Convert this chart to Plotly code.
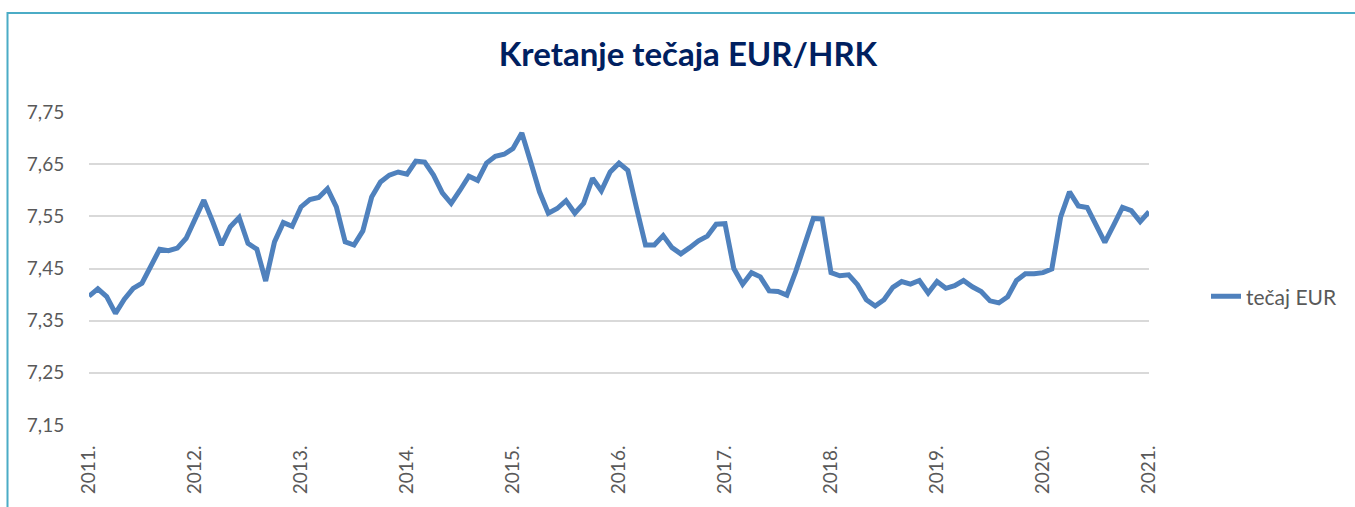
import plotly.graph_objects as go

# Monthly categories Jan 2011 .. Jan 2021
years = list(range(2011, 2022))
months = [f"{y}-{m:02d}" for y in years[:-1] for m in range(1, 13)] + ["2021-01"]

eur_hrk = [
    7.397, 7.411, 7.396, 7.364, 7.391, 7.412, 7.422, 7.454, 7.487, 7.484, 7.489, 7.508,
    7.546, 7.581, 7.540, 7.495, 7.530, 7.548, 7.498, 7.487, 7.426, 7.501, 7.538, 7.531,
    7.568, 7.582, 7.586, 7.603, 7.568, 7.501, 7.495, 7.522, 7.587, 7.616, 7.629, 7.635,
    7.631, 7.656, 7.654, 7.629, 7.595, 7.575, 7.600, 7.627, 7.619, 7.652, 7.665, 7.669,
    7.680, 7.710, 7.654, 7.597, 7.556, 7.565, 7.580, 7.556, 7.575, 7.623, 7.599, 7.635,
    7.652, 7.638, 7.565, 7.495, 7.495, 7.513, 7.490, 7.478, 7.490, 7.503, 7.512, 7.535,
    7.536, 7.450, 7.420, 7.442, 7.434, 7.407, 7.406, 7.399, 7.444, 7.498, 7.546, 7.545,
    7.442, 7.436, 7.438, 7.419, 7.390, 7.378, 7.390, 7.414, 7.425, 7.420, 7.427, 7.403,
    7.425, 7.412, 7.417, 7.427, 7.415, 7.406, 7.388, 7.384, 7.396, 7.427, 7.440, 7.440,
    7.442, 7.449, 7.549, 7.597, 7.570, 7.567, 7.533, 7.500, 7.533, 7.567, 7.561, 7.540,
    7.559,
]

year_ticks = [f"{y}-01" for y in years]
year_labels = [f"{y}." for y in years]
y_ticks = [7.15, 7.25, 7.35, 7.45, 7.55, 7.65, 7.75]
y_labels = ["7,15", "7,25", "7,35", "7,45", "7,55", "7,65", "7,75"]

W, H = 1355, 507
L, R, T, B = 89, 206, 112, 81.5
pw, ph = W - L - R, H - T - B

fig = go.Figure()
fig.add_trace(go.Scatter(
    x=months, y=eur_hrk, mode="lines", name="tečaj EUR",
    line=dict(color="#4F81BD", width=5),
))

def px_to_paper_x(px):
    return (px - L) / pw

def px_to_paper_y(py):
    return 1 + (T - py) / ph

# outer chart border (teal)
fig.add_shape(type="rect", xref="paper", yref="paper",
              x0=px_to_paper_x(7.5), x1=px_to_paper_x(1400),
              y0=px_to_paper_y(600), y1=px_to_paper_y(12.8),
              line=dict(color="#4BACC6", width=2), fillcolor="rgba(0,0,0,0)")

fig.update_layout(
    width=W, height=H,
    margin=dict(l=L, r=R, t=T, b=B),
    paper_bgcolor="white", plot_bgcolor="white",
    font=dict(family="Lato, 'Open Sans', sans-serif", color="#595959", size=19),
    title=dict(text="<b>Kretanje tečaja EUR/HRK</b>", x=(688 - L) / pw, xref="paper",
               xanchor="center", y=1 - 54 / H, yanchor="middle",
               font=dict(family="Lato, 'Open Sans', sans-serif", size=33, color="#002060")),
    showlegend=True,
    legend=dict(x=px_to_paper_x(1206), xanchor="left", y=px_to_paper_y(297), yanchor="middle",
                font=dict(size=21, color="#595959"), bgcolor="rgba(0,0,0,0)"),
    xaxis=dict(type="category", range=[0, 120], tickmode="array",
               tickvals=year_ticks, ticktext=year_labels, tickangle=-90,
               showgrid=False, zeroline=False, showline=False,
               ticks="outside", ticklen=12, tickcolor="rgba(0,0,0,0)",
               tickfont=dict(size=19, color="#595959")),
    yaxis=dict(range=[7.15, 7.75], tickmode="array", tickvals=y_ticks, ticktext=y_labels,
               showgrid=True, gridcolor="#D9D9D9", gridwidth=1.5, zeroline=False, showline=False,
               ticks="outside", ticklen=20, tickcolor="rgba(0,0,0,0)",
               tickfont=dict(size=19, color="#595959")),
)

fig.write_html("out.html", config={"displayModeBar": False},
               post_script="document.body.style.margin='0';")
